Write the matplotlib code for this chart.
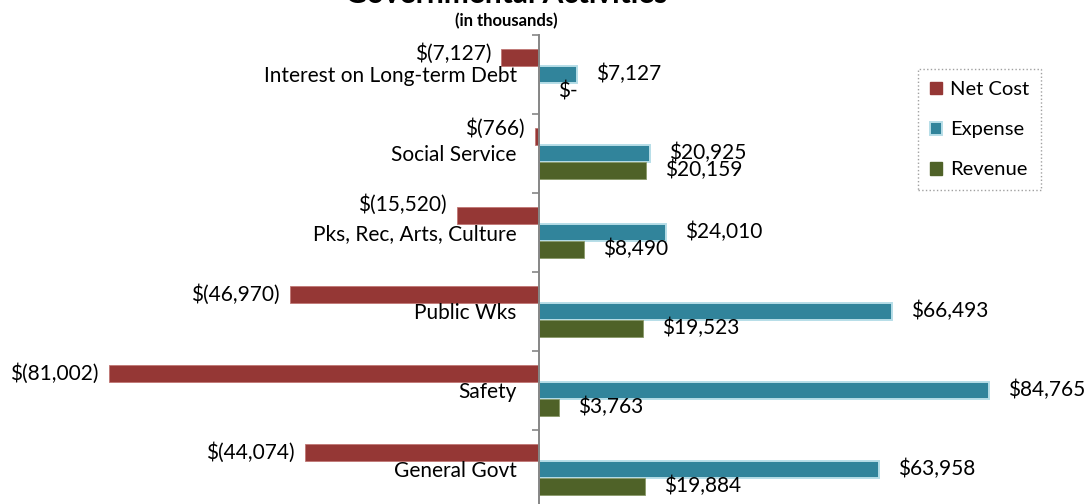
import numpy as np
import matplotlib
matplotlib.use("Agg")
import matplotlib.pyplot as plt
from matplotlib.patches import Patch
from matplotlib.transforms import offset_copy

categories = ["Interest on Long-term Debt", "Social Service", "Pks, Rec, Arts, Culture",
              "Public Wks", "Safety", "General Govt"]
net_cost = [-7127, -766, -15520, -46970, -81002, -44074]
expense = [7127, 20925, 24010, 66493, 84765, 63958]
revenue = [0, 20159, 8490, 19523, 3763, 19884]

c_net = "#953735"
c_exp = "#31849b"
c_rev = "#4f6228"

plt.rcParams["font.family"] = ["Lato", "DejaVu Sans"]


def money(v):
    if v == 0:
        return "$-"
    if v < 0:
        return "$({:,})".format(-v)
    return "${:,}".format(v)


W, H, DPI = 1085, 504, 100
fig = plt.figure(figsize=(W / DPI, H / DPI), dpi=DPI)

# axes run a bit past the bottom edge, like the cropped original
top_px, slot_px = 34.7, 79.0
n = len(categories)
bottom_px = top_px + n * slot_px
ax = fig.add_axes([0, 1 - bottom_px / H, 1, (bottom_px - top_px) / H])

zero_px = 539.0
px_per_unit = 450.0 / 84765
ax.set_xlim(-zero_px / px_per_unit, (W - zero_px) / px_per_unit)
ax.set_ylim(n - 0.5, -0.5)

y = np.arange(n)
bh = 0.215
ax.barh(y - bh, net_cost, height=bh, color=c_net, edgecolor="#c07774", linewidth=0.6)
ax.barh(y, expense, height=bh, color=c_exp, edgecolor="#b7dee8", linewidth=1.4)
ax.barh(y + bh, revenue, height=bh, color=c_rev, edgecolor="#8a9a6a", linewidth=0.6)

for s in ["top", "right", "bottom"]:
    ax.spines[s].set_visible(False)
ax.spines["left"].set_position(("data", 0))
ax.spines["left"].set_color("#868686")
ax.spines["left"].set_linewidth(1.4)
ax.spines["left"].set_zorder(5)
ax.set_xticks([])

ax.set_yticks(y)
ax.set_yticklabels(categories, fontsize=15)
ax.tick_params(axis="y", which="major", length=0, pad=16)
ax.set_yticks(np.arange(n + 1) - 0.5, minor=True)
ax.tick_params(axis="y", which="minor", length=5, width=1.2, color="#868686")

fs = 15
net_dy = [4, 8, 11, 0, 0, 0]
for i in range(n):
    t = offset_copy(ax.transData, fig=fig, x=-10, y=net_dy[i], units="dots")
    ax.text(net_cost[i], y[i] - bh, money(net_cost[i]), transform=t,
            ha="right", va="center", fontsize=fs)
    t = offset_copy(ax.transData, fig=fig, x=19, y=0, units="dots")
    ax.text(expense[i], y[i], money(expense[i]), transform=t,
            ha="left", va="center", fontsize=fs)
    ax.text(revenue[i], y[i] + bh, money(revenue[i]), transform=t,
            ha="left", va="center", fontsize=fs)

fig.text(506 / W, 1 - 3 / H, "Governmental Activities", ha="center", va="baseline",
         fontsize=21.5, fontweight="bold")
fig.text(506 / W, 1 - 21 / H, "(in thousands)", ha="center", va="center",
         fontsize=12, fontweight="bold")

handles = [Patch(facecolor=c_net, edgecolor=c_net, label="Net Cost"),
           Patch(facecolor=c_exp, edgecolor="#b7dee8", linewidth=1.4, label="Expense"),
           Patch(facecolor=c_rev, edgecolor=c_rev, label="Revenue")]
leg = fig.legend(handles=handles, loc="upper left",
                 bbox_to_anchor=(918 / W, 1 - 69 / H), fontsize=14.5,
                 handlelength=0.6, handleheight=0.6, handletextpad=0.4,
                 labelspacing=1.15, borderpad=0.6, borderaxespad=0,
                 fancybox=False, framealpha=1)
leg.get_frame().set_edgecolor("#a0a0a0")
leg.get_frame().set_linestyle(":")
leg.get_frame().set_linewidth(1.0)

fig.savefig("out.png", dpi=DPI)
